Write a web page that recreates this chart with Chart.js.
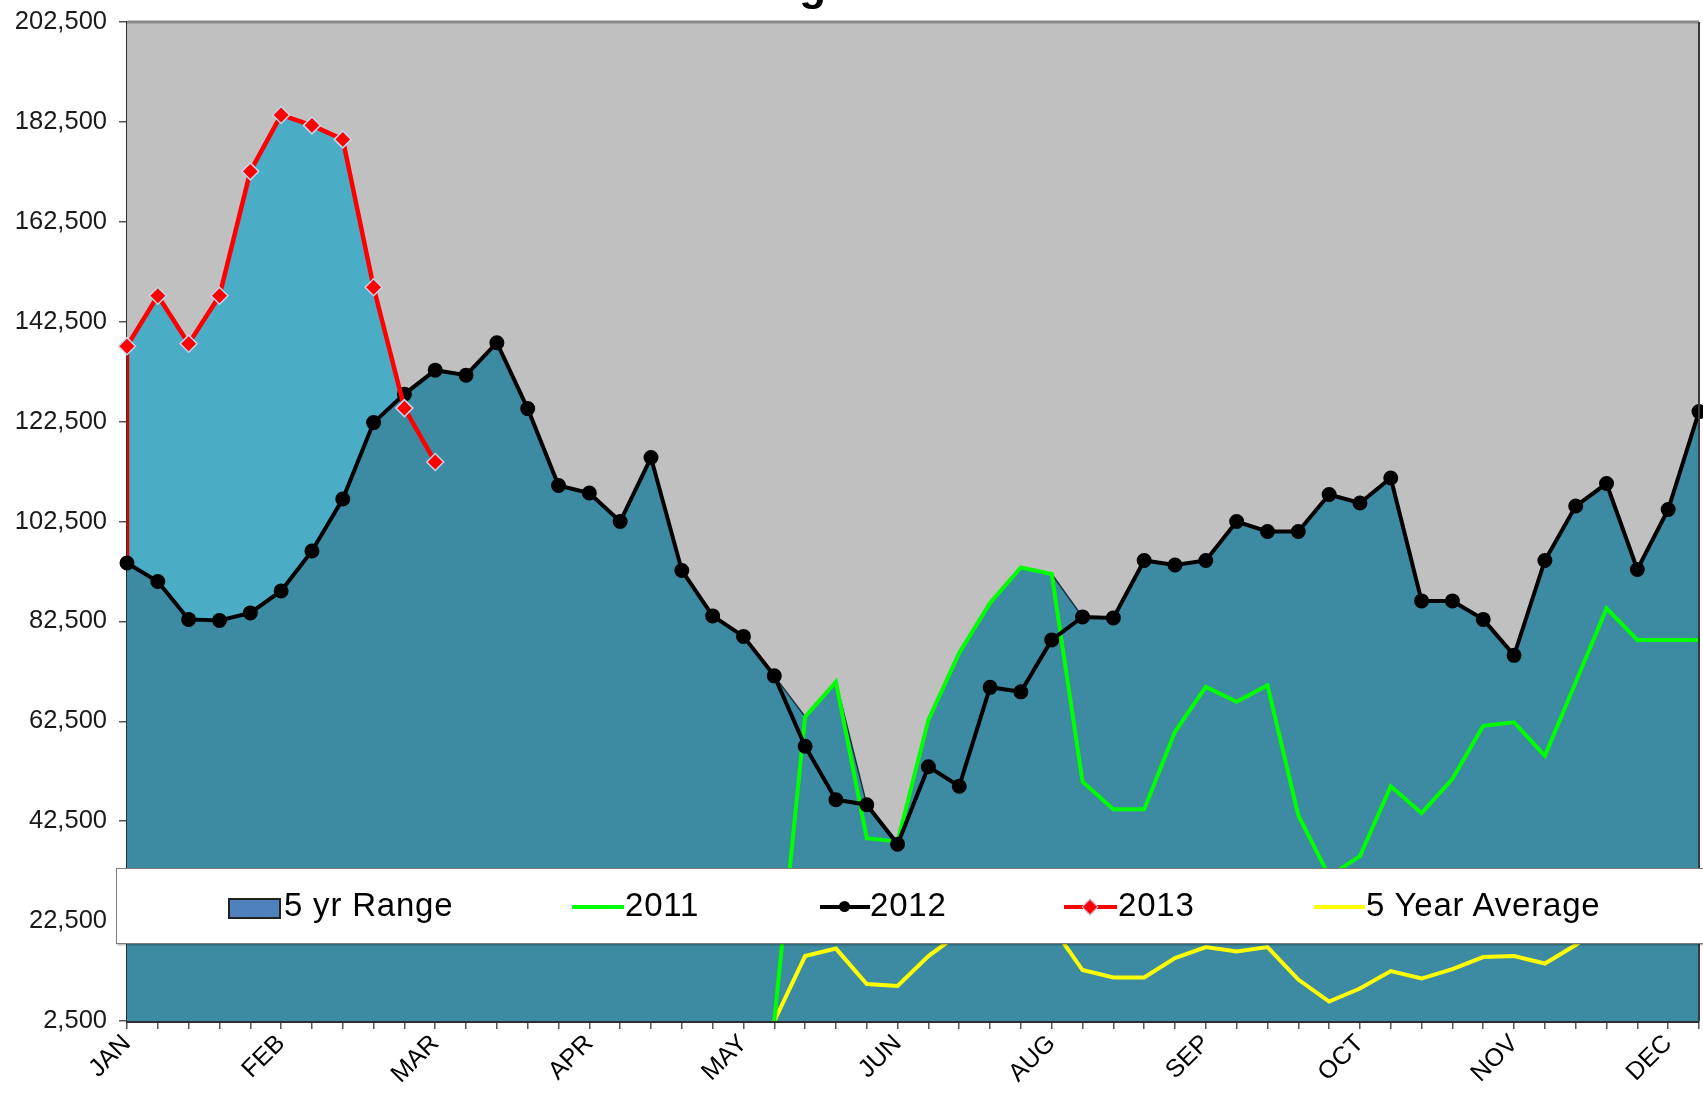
<!DOCTYPE html>
<html>
<head>
<meta charset="utf-8">
<script src="https://cdn.jsdelivr.net/npm/chart.js@4.4.1/dist/chart.umd.min.js"></script>
<style>
html,body{margin:0;padding:0;background:#fff;overflow:hidden;}
#wrap{position:relative;width:1703px;height:1093px;overflow:hidden;}
#c{position:absolute;left:0;top:0;}
#title{position:absolute;left:0;width:1712px;text-align:center;top:-36.7px;font:bold 44px "Liberation Sans",Arial,sans-serif;line-height:44px;white-space:nowrap;color:#000;letter-spacing:1px;}
#legend{position:absolute;left:116px;top:868px;width:1600px;height:76px;background:#fff;border:1px solid #7f7f7f;box-shadow:1px 1px 2px rgba(0,0,0,0.35);box-sizing:border-box;}
.lt{position:absolute;top:885px;font:33px "Liberation Sans",Arial,sans-serif;line-height:40px;letter-spacing:0.8px;color:#000;white-space:nowrap;}
.ln{position:absolute;height:4px;top:905px;}
</style>
</head>
<body>
<div id="wrap">
<canvas id="c" width="1709" height="1093"></canvas>
<div id="title">Brent Managed Net Position</div>
<div id="legend"></div>
<div style="position:absolute;left:228px;top:898px;width:49px;height:17px;background:#4F81BD;border:2px solid #222;"></div>
<div class="lt" style="left:284px;">5 yr Range</div>
<div class="ln" style="left:572px;width:52px;background:#00FF00;"></div>
<div class="lt" style="left:625px;">2011</div>
<div class="ln" style="left:820px;width:50px;background:#000;"></div>
<div style="position:absolute;left:839px;top:901px;width:11px;height:11px;border-radius:50%;background:#000;"></div>
<div class="lt" style="left:870px;">2012</div>
<div class="ln" style="left:1064px;width:53px;background:#FF0000;"></div>
<div style="position:absolute;left:1084px;top:901px;width:10px;height:10px;background:#FF0000;border:1px solid #C6D4EC;transform:rotate(45deg);"></div>
<div class="lt" style="left:1118px;">2013</div>
<div class="ln" style="left:1314px;width:51px;background:#FFFF00;"></div>
<div class="lt" style="left:1366px;">5 Year Average</div>
</div>
<script>
// ---- data ----
const weekLabels = ['JAN','','','','','FEB','','','','','MAR','','','','','APR','','','','','MAY','','','','','JUN','','','','','AUG','','','','','SEP','','','','','OCT','','','','','NOV','','','','','DEC',''];

const yTickValues = [2500, 22500, 42500, 62500, 82500, 102500, 122500, 142500, 162500, 182500, 202500];

const series2013 = [137600,147700,138100,147700,172600,183900,181800,179000,149400,125200,114400];

const series2012 = [94200,90500,82900,82700,84200,88600,96600,107000,122300,128000,
  132800,131800,138300,125100,109700,108200,102500,115300,92700,83600,
  79500,71600,57500,46800,45800,37900,53400,49500,69300,68400,
  78800,83400,83200,94700,93800,94700,102500,100500,100500,107900,
  106200,111200,86600,86600,82900,75700,94700,105600,110100,92900,
  104900,124500];

const series2011 = [null,null,null,null,null,null,null,null,null,null,
  null,null,null,null,null,null,null,null,null,null,
  null,2500,63400,70400,39100,38400,62800,76200,86200,93300,
  92000,50400,44900,44900,60400,69400,66400,69700,43700,31500,
  35500,49500,44100,51000,61600,62300,55600,70300,85100,78800,
  78800,78800];

const avg5yr = [null,null,null,null,null,null,null,null,null,null,
  null,null,null,null,null,null,null,null,null,null,
  null,2500,15500,17000,9900,9500,15500,20000,23000,25000,
  21500,12700,11200,11200,15100,17300,16400,17300,10800,6400,
  9000,12500,11000,12900,15300,15500,14000,17700,22000,25000,
  24000,24000];

const rangeHigh = [94200,90500,82900,82700,84200,88600,96600,107000,122300,128000,
  132800,131800,138300,125100,109700,108200,102500,115300,92700,83600,
  79500,71600,63400,70400,45800,38400,62800,76200,86200,93300,
  92000,83400,83200,94700,93800,94700,102500,100500,100500,107900,
  106200,111200,86600,86600,82900,75700,94700,105600,110100,92900,
  104900,124500];

// ---- build ----
const data2013 = weekLabels.map((_, i) => i < series2013.length ? series2013[i] : null);
const FONT = '"Liberation Sans", Arial, sans-serif';

const plotDeco = {
  id: 'plotDeco',
  beforeDatasetsDraw(chart) {
    const {ctx, chartArea: a} = chart;
    ctx.save();
    ctx.fillStyle = '#C0C0C0';
    ctx.fillRect(a.left, a.top, a.right - a.left, a.bottom - a.top);
    ctx.restore();
  },
  afterDatasetDraw(chart, args) {
    if (args.index !== 4) return;
    const {ctx} = chart;
    const xs = chart.scales.x, ys = chart.scales.y;
    const x0 = xs.getPixelForValue(0);
    ctx.save();
    ctx.strokeStyle = '#E00000';
    ctx.lineWidth = 2.5;
    ctx.beginPath();
    ctx.moveTo(x0 + 1, ys.getPixelForValue(data2013[0]));
    ctx.lineTo(x0 + 1, ys.getPixelForValue(rangeHigh[0]));
    ctx.stroke();
    ctx.restore();
  },
  afterDatasetsDraw(chart) {
    const {ctx, chartArea: a} = chart;
    ctx.save();
    ctx.strokeStyle = '#8a8a8a';
    ctx.lineWidth = 3;
    ctx.beginPath();
    ctx.moveTo(a.left, a.top);
    ctx.lineTo(a.right, a.top);
    ctx.stroke();
    ctx.strokeStyle = '#3a3a3a';
    ctx.lineWidth = 2;
    ctx.beginPath();
    ctx.moveTo(a.right, a.top);
    ctx.lineTo(a.right, a.bottom);
    ctx.stroke();
    ctx.restore();
  }
};

new Chart(document.getElementById('c'), {
  type: 'line',
  data: {
    labels: weekLabels,
    datasets: [
      {label: '2013', data: data2013, borderColor: '#FF0000', borderWidth: 4.5,
       pointStyle: 'rectRot', pointRadius: 8.5, pointBackgroundColor: '#FF0000',
       pointBorderColor: '#C6D4EC', pointBorderWidth: 1.5, fill: false, tension: 0},
      {label: '2012', data: series2012, borderColor: '#000', borderWidth: 4,
       pointStyle: 'circle', pointRadius: 5.5, pointBackgroundColor: '#000',
       pointBorderColor: '#000', fill: false, tension: 0},
      {label: '2011', data: series2011, borderColor: '#00FF00', borderWidth: 4,
       pointRadius: 0, fill: false, tension: 0},
      {label: '5 Year Average', data: avg5yr, borderColor: '#FFFF00', borderWidth: 4,
       pointRadius: 0, fill: false, tension: 0},
      {label: '5 yr Range', data: rangeHigh, borderColor: '#1c3440', borderWidth: 1.5,
       pointRadius: 0, fill: 'start', backgroundColor: '#3C8BA3', tension: 0},
      {label: '2013 area', data: data2013, borderColor: 'rgba(0,0,0,0)', borderWidth: 0,
       pointRadius: 0, fill: 'start', backgroundColor: '#4BACC6', tension: 0}
    ]
  },
  options: {
    responsive: false,
    devicePixelRatio: 1,
    animation: false,
    events: [],
    layout: {padding: {top: 22, right: 0, left: 0, bottom: 0}},
    plugins: {legend: {display: false}, tooltip: {enabled: false}, title: {display: false}},
    scales: {
      x: {
        type: 'category',
        offset: false,
        grid: {display: true, drawOnChartArea: false, drawTicks: true, tickLength: 8, color: '#555', lineWidth: 1.5},
        border: {display: true, color: '#2e2e2e', width: 3},
        ticks: {autoSkip: false, maxRotation: 45, minRotation: 45, padding: 0,
                font: {family: FONT, size: 25}, color: '#000'},
        afterFit(s) { s.height = 72; s.paddingRight = 0; s.paddingLeft = 0; }
      },
      y: {
        min: 2500, max: 202500,
        afterBuildTicks(s) { s.ticks = yTickValues.map(v => ({value: v})); },
        grid: {display: true, drawOnChartArea: false, drawTicks: true, tickLength: 8, color: '#555', lineWidth: 1.5},
        border: {display: true, color: '#2e2e2e', width: 3},
        ticks: {padding: 12, font: {family: FONT, size: 25.5}, color: '#1a1a1a',
                callback: v => Number(v).toLocaleString('en-US')},
        afterFit(s) { s.width = 127; s.paddingTop = 0; s.paddingBottom = 0; }
      }
    }
  },
  plugins: [plotDeco]
});
</script>
</body>
</html>
